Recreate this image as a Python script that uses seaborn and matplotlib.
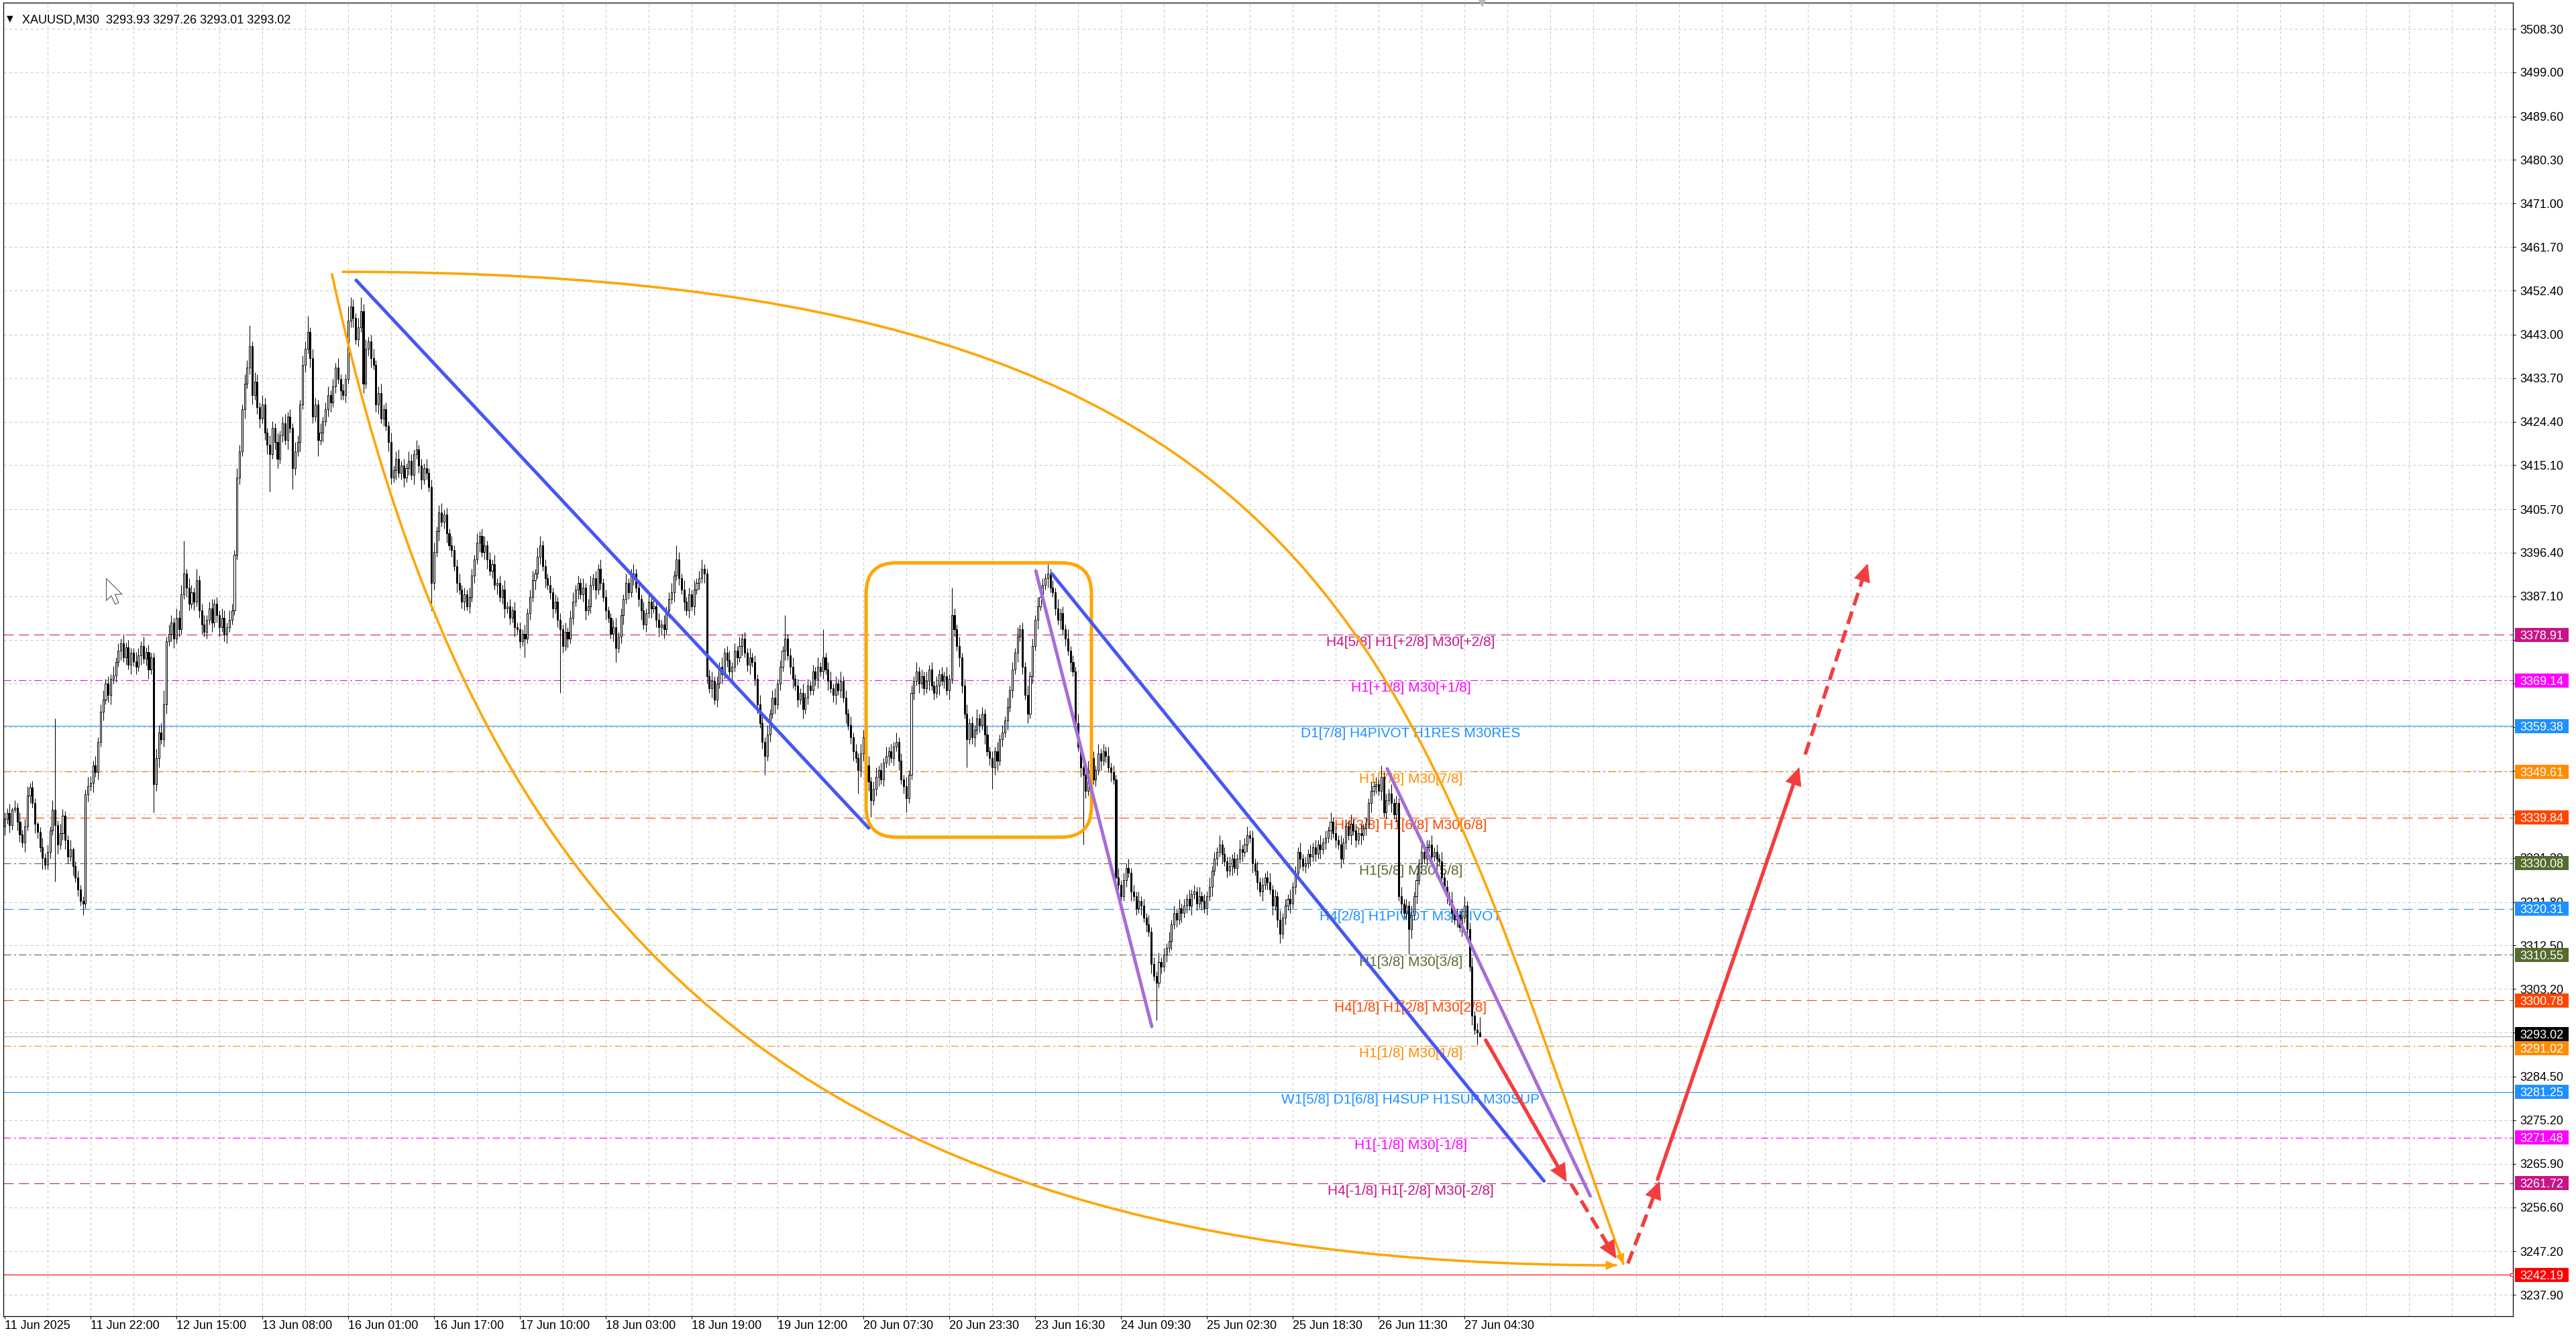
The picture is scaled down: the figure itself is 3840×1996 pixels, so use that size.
import numpy as np
import pandas as pd
import matplotlib
matplotlib.use("Agg")
import matplotlib.pyplot as plt
import seaborn as sns
from matplotlib.patches import FancyBboxPatch, Rectangle, PathPatch, Polygon
from matplotlib.path import Path
from matplotlib.markers import MarkerStyle
import matplotlib.transforms as mtransforms

# ============================ DATA ============================
symbol = "XAUUSD,M30"
first_open = 3338.0

# closes (M30 bars)
close_a = [3339.5, 3340.8, 3338.2, 3341.5, 3342.0, 3339.0, 3336.2, 3334.5, 3338.0, 3344.5,
           3346.2, 3343.0, 3338.5, 3336.8, 3333.5, 3331.2, 3329.8, 3332.5, 3337.0, 3341.5,
           3338.2, 3334.0, 3336.5, 3340.2, 3335.0, 3331.5, 3333.0, 3329.5, 3327.0, 3324.5,
           3322.0, 3321.5]
up_a = [1.5, 1.0, 2.0, 0.5, 1.5, 1.0, 2.0, 1.0, 1.5, 2.0,
        1.0, 1.5, 1.0, 0.5, 1.0, 2.0, 1.0, 1.5, 1.0, 2.0,
        19.5, 1.0, 2.0, 1.5, 1.0, 1.0, 2.0, 0.5, 1.0, 1.5,
        1.0, 1.0]
dn_a = [2.0, 1.0, 1.5, 1.0, 0.5, 2.0, 1.5, 1.0, 2.0, 1.0,
        1.5, 1.0, 2.0, 1.5, 1.0, 2.5, 1.0, 1.0, 1.5, 1.0,
        12.0, 2.0, 1.0, 1.5, 2.0, 1.5, 1.0, 2.0, 1.0, 1.5,
        1.0, 2.5]

close_b = [3344.8, 3346.5, 3347.2, 3351.0, 3349.5, 3356.0, 3362.5, 3365.0, 3368.5, 3366.0,
           3369.5, 3370.2, 3373.0, 3375.5, 3377.0, 3374.0, 3376.2, 3372.5, 3375.0, 3373.2,
           3372.0, 3374.5, 3376.5, 3373.8, 3375.2, 3371.5, 3374.0]
up_b = [1.0, 2.0, 1.5, 1.0, 2.0, 1.0, 1.5, 2.0, 1.0, 1.5,
        1.0, 2.0, 1.0, 1.5, 1.0, 2.0, 1.0, 1.5, 1.0, 1.0,
        2.0, 1.5, 1.0, 2.0, 1.0, 1.5, 1.0]
dn_b = [1.0, 1.5, 1.0, 2.0, 1.0, 1.5, 1.0, 2.0, 1.0, 1.5,
        2.0, 1.0, 1.5, 1.0, 2.0, 1.0, 1.5, 1.0, 2.0, 1.0,
        1.5, 1.0, 2.0, 1.0, 1.5, 2.0, 1.0]

close_c = [3347.0, 3352.5, 3358.0, 3356.5, 3364.0, 3377.5, 3379.0, 3381.5, 3378.0, 3382.5,
           3380.0, 3387.5, 3392.0, 3389.0, 3385.5, 3388.0, 3386.0, 3390.5, 3384.0, 3381.0,
           3379.5, 3382.0, 3384.5, 3381.5, 3385.5, 3383.0, 3380.5, 3382.5, 3379.0, 3380.5,
           3382.0, 3384.0]
up_c = [1.0, 2.0, 1.5, 2.0, 3.0, 1.0, 2.0, 1.5, 1.0, 2.0,
        1.5, 2.0, 7.0, 1.0, 2.0, 1.5, 1.0, 2.5, 1.0, 1.5,
        2.0, 1.0, 1.5, 2.0, 1.0, 1.5, 1.0, 2.0, 1.5, 1.0,
        2.0, 1.5]
dn_c = [6.0, 1.5, 2.0, 1.0, 1.5, 2.0, 1.0, 1.5, 2.0, 1.0,
        1.5, 1.0, 1.0, 2.0, 1.5, 1.0, 2.0, 1.0, 1.5, 2.0,
        1.0, 1.5, 1.0, 2.0, 1.0, 1.5, 2.0, 1.0, 1.5, 2.0,
        1.0, 1.0]

close_d = [3396.0, 3412.5, 3418.0, 3427.0, 3432.5, 3436.0, 3440.5, 3430.0, 3433.0, 3427.5,
           3425.0, 3428.0, 3422.0, 3419.5, 3417.5, 3423.0, 3420.0, 3416.5, 3421.5, 3424.0,
           3420.5, 3425.5, 3423.0, 3414.5, 3418.0, 3420.0, 3428.0, 3436.5, 3440.0, 3443.5,
           3438.0, 3425.5, 3428.0, 3420.5, 3422.0, 3424.5, 3427.0, 3430.0, 3428.5, 3432.0,
           3436.0, 3433.5, 3431.0, 3430.0, 3433.5]
up_d = [1.0, 2.0, 1.5, 1.0, 2.0, 1.5, 4.5, 1.0, 2.0, 1.5,
        1.0, 2.0, 1.5, 1.0, 2.0, 1.5, 1.0, 2.0, 1.0, 1.5,
        2.0, 1.0, 1.5, 1.0, 2.0, 1.5, 1.0, 2.0, 1.5, 3.5,
        1.0, 2.0, 1.5, 1.0, 2.0, 1.0, 1.5, 2.0, 1.0, 1.5,
        1.0, 2.0, 1.0, 1.5, 1.0]
dn_d = [1.0, 1.0, 1.5, 1.0, 2.0, 1.0, 1.5, 2.0, 1.0, 1.5,
        2.0, 1.0, 1.5, 2.0, 8.0, 1.0, 1.5, 2.0, 1.0, 1.5,
        1.0, 2.0, 1.0, 4.5, 1.5, 1.0, 2.0, 1.0, 1.5, 1.0,
        2.0, 1.5, 1.0, 3.5, 1.0, 2.0, 1.0, 1.5, 2.0, 1.0,
        1.5, 1.0, 2.0, 1.0, 1.5]

close_e = [3446.0, 3449.0, 3446.5, 3442.0, 3444.5, 3448.0, 3432.5, 3440.0, 3441.5, 3438.0,
           3436.5, 3428.0, 3430.5, 3425.0, 3427.0, 3423.5, 3420.0, 3412.5, 3414.0, 3416.5,
           3413.5, 3415.0, 3412.5, 3414.5, 3416.0, 3413.0, 3417.5, 3418.5, 3415.0, 3412.0,
           3414.5, 3413.5, 3410.5, 3390.0, 3396.5, 3401.0, 3405.0, 3403.0, 3404.5, 3400.5,
           3398.0, 3397.0, 3393.5, 3390.0, 3388.5, 3386.0, 3387.5, 3385.0, 3387.0]
up_e = [3.0, 2.0, 1.5, 1.0, 2.0, 3.0, 1.5, 2.0, 1.0, 1.5,
        2.0, 1.0, 1.5, 2.0, 1.0, 1.5, 1.0, 2.0, 1.0, 1.5,
        2.0, 1.0, 1.5, 1.0, 2.0, 1.5, 1.0, 2.0, 1.0, 1.5,
        1.0, 2.0, 1.0, 1.5, 2.0, 1.0, 1.5, 2.0, 1.0, 1.5,
        1.0, 2.0, 1.0, 1.5, 2.0, 1.0, 1.5, 1.0, 2.0]
dn_e = [1.0, 1.5, 2.0, 1.0, 1.5, 1.0, 2.0, 1.0, 1.5, 2.0,
        1.0, 1.5, 2.0, 1.0, 1.5, 1.0, 2.0, 1.5, 1.0, 2.0,
        1.0, 1.5, 2.0, 1.0, 1.5, 1.0, 2.0, 1.0, 1.5, 2.0,
        1.0, 1.5, 1.0, 6.0, 1.5, 1.0, 2.0, 1.0, 1.5, 2.0,
        1.0, 1.5, 1.0, 2.0, 1.0, 1.5, 2.0, 1.0, 1.5]

close_f = [3391.5, 3395.0, 3398.5, 3400.0, 3396.5, 3398.0, 3395.0, 3392.5, 3394.0, 3389.5,
           3390.0, 3387.0, 3388.5, 3384.5, 3385.0,
           3382.5, 3384.0, 3380.5, 3380.0, 3377.5, 3379.0, 3378.0, 3383.5, 3387.0, 3390.5,
           3392.0, 3395.5, 3398.0, 3393.5, 3391.0, 3389.5, 3388.0, 3384.5, 3386.0, 3382.0,
           3380.0, 3376.5, 3379.5, 3378.0, 3382.5, 3386.0, 3388.5, 3390.0, 3387.5, 3389.0,
           3384.0, 3385.0, 3389.5, 3391.0, 3388.5, 3393.0, 3390.0, 3387.0, 3384.0, 3382.5,
           3379.0, 3380.5, 3376.0, 3378.5, 3383.0, 3386.5, 3390.0, 3388.0, 3391.5, 3392.0,
           3389.0, 3386.5, 3384.0, 3381.0, 3383.5, 3386.0, 3384.5, 3385.0, 3382.0, 3380.5,
           3381.0, 3380.0, 3384.0, 3386.5, 3388.0, 3391.5, 3395.0, 3391.0, 3388.5, 3386.0,
           3384.0, 3387.5, 3385.0, 3388.5, 3390.0, 3391.0, 3393.0, 3392.0]
up_f = [1.5, 1.0, 2.0, 1.0, 1.5, 2.0, 1.0, 1.5, 1.0, 2.0, 1.0, 1.5, 1.0, 2.0, 1.0,
        1.5, 1.0, 2.0, 1.0, 1.5, 1.0, 2.0, 1.0, 1.5, 2.0, 1.0, 2.0, 2.0, 1.0, 1.5, 1.0, 2.0, 1.0, 1.5, 1.0,
        1.5, 1.0, 2.0, 1.0, 1.5, 2.0, 1.0, 1.5, 1.0, 2.0, 1.0, 1.5, 2.0, 1.0, 1.5, 1.0, 2.0, 1.0, 1.5, 1.0,
        1.0, 1.5, 2.0, 1.0, 1.5, 1.0, 2.0, 1.0, 1.5, 2.0, 1.0, 1.5, 1.0, 2.0, 1.0, 1.5, 1.0, 2.0, 1.0, 1.5,
        1.0, 2.0, 1.0, 1.5, 2.0, 1.0, 3.0, 1.5, 1.0, 2.0, 1.0, 1.5, 1.0, 2.0, 1.0, 1.5, 2.0, 1.0]
dn_f = [1.0, 1.5, 1.0, 2.0, 1.0, 1.5, 2.0, 1.0, 1.5, 1.0, 2.0, 1.0, 1.5, 2.0, 1.0,
        1.5, 1.0, 2.0, 1.0, 1.5, 1.0, 4.0, 1.0, 1.5, 1.0, 2.0, 1.0, 1.5, 1.0, 2.0, 1.0, 1.5, 2.0, 1.0, 1.5,
        13.5, 1.5, 1.0, 2.0, 1.0, 1.5, 1.0, 2.0, 1.0, 1.5, 2.0, 1.0, 1.5, 1.0, 2.0, 1.0, 1.5, 1.0, 2.0, 1.0,
        1.0, 1.5, 3.0, 1.0, 1.5, 2.0, 1.0, 1.5, 1.0, 2.0, 1.0, 1.5, 2.0, 1.0, 1.5, 1.0, 2.0, 1.0, 1.5, 2.0,
        1.5, 2.0, 1.0, 1.5, 1.0, 2.0, 1.0, 1.5, 1.0, 2.0, 1.0, 1.5, 1.0, 2.0, 1.0, 1.5, 1.0, 2.0]

close_g = [3370.0, 3367.5, 3369.0, 3365.0, 3368.5, 3372.0, 3370.5, 3375.0, 3373.5, 3371.0,
           3372.0, 3375.5, 3374.0, 3376.5, 3378.0, 3375.0, 3372.5, 3374.0, 3373.0, 3369.5,
           3364.0, 3360.0,
           3356.0, 3353.0, 3357.5, 3362.0, 3365.5, 3364.0, 3368.5, 3372.0, 3375.5, 3378.0,
           3374.5, 3372.0, 3369.5, 3368.0, 3365.0, 3366.5, 3363.0, 3365.5, 3368.0, 3367.0,
           3371.0, 3369.5, 3372.0, 3371.0, 3374.0, 3371.5, 3369.0, 3367.5, 3366.0, 3368.5,
           3367.0, 3369.0, 3365.5, 3362.0, 3359.5, 3357.0, 3354.0, 3352.5, 3350.0, 3353.5,
           3357.0, 3351.0, 3347.5, 3343.5, 3346.0, 3348.5, 3350.0, 3348.0, 3351.5, 3353.0,
           3354.0, 3352.5, 3355.0, 3356.0, 3352.0, 3348.0, 3346.5, 3344.0, 3349.0]
up_g = [1.0, 1.5, 2.0, 1.0, 1.5, 1.0, 2.0, 1.0, 1.5, 2.0, 1.0, 1.5, 1.0, 2.0, 1.0, 1.5, 1.0, 2.0, 1.0, 1.5, 1.0, 2.0,
        1.5, 1.0, 2.0, 1.0, 1.5, 2.0, 1.0, 1.5, 1.0, 5.0, 1.0, 1.5, 2.0, 1.0, 1.5, 1.0, 2.0, 1.0, 1.5, 1.0,
        1.5, 1.0, 2.0, 1.0, 6.0, 1.0, 1.5, 2.0, 1.0, 1.5, 1.0, 2.0, 1.0, 1.5, 1.0, 2.0, 1.0, 1.5, 1.0, 2.0,
        1.5, 1.0, 2.0, 1.0, 1.5, 2.0, 1.0, 1.5, 1.0, 2.0, 1.0, 1.5, 1.0, 2.0, 1.0, 1.5, 1.0, 2.0, 1.0]
dn_g = [1.5, 1.0, 2.0, 1.0, 1.5, 1.0, 2.0, 1.0, 1.5, 1.0, 2.0, 1.0, 1.5, 1.0, 2.0, 1.0, 1.5, 2.0, 1.0, 1.5, 2.0, 1.0,
        1.5, 4.0, 1.0, 1.5, 1.0, 2.0, 1.0, 1.5, 1.0, 2.0, 1.0, 1.5, 2.0, 1.0, 1.5, 1.0, 2.0, 1.0, 1.5, 1.0,
        1.0, 1.5, 2.0, 1.0, 1.5, 1.0, 2.0, 1.0, 1.5, 2.0, 1.0, 1.5, 1.0, 2.0, 1.0, 1.5, 2.0, 1.0, 5.0, 1.5,
        1.5, 1.0, 2.0, 3.5, 1.0, 1.5, 2.0, 1.0, 1.5, 1.0, 2.0, 1.0, 1.5, 1.0, 2.0, 1.0, 1.5, 3.0, 1.0]

close_h = [3366.5, 3369.0, 3371.0, 3368.5, 3370.0, 3367.5, 3369.0, 3371.5, 3368.0, 3366.5,
           3368.0, 3370.5, 3369.0, 3370.0, 3367.0, 3369.5, 3383.0, 3380.0, 3376.5, 3374.0,
           3368.0, 3362.0, 3356.5, 3360.0, 3357.0, 3358.5, 3361.0, 3359.5, 3362.0, 3357.5,
           3354.0, 3352.5, 3350.5, 3354.0, 3352.0, 3356.5, 3358.0, 3360.5, 3363.5, 3367.0,
           3371.5, 3375.0, 3378.5, 3380.0, 3372.0, 3366.0, 3362.0, 3370.0, 3376.5, 3382.0,
           3385.0, 3387.0, 3389.5, 3391.0, 3392.0, 3389.0]
up_h = [1.5, 1.0, 2.0, 1.0, 1.5, 1.0, 2.0, 1.0, 1.5, 1.0, 2.0, 1.0, 1.5, 1.0, 2.0, 1.0, 6.0, 1.5, 1.0, 2.0,
        1.0, 1.5, 2.0, 1.0, 1.5, 1.0, 2.0, 1.0, 1.5, 1.0, 2.0, 1.0, 1.5, 1.0, 2.0, 1.0, 1.5, 1.0, 2.0, 1.0,
        1.5, 1.0, 2.0, 1.0, 1.5, 1.0, 2.0, 1.0, 1.5, 1.0, 2.0, 1.0, 1.5, 1.0, 2.0, 1.0]
dn_h = [1.0, 1.5, 1.0, 2.0, 1.0, 1.5, 1.0, 2.0, 1.0, 1.5, 1.0, 2.0, 1.0, 1.5, 1.0, 2.0, 1.0, 1.5, 1.0, 2.0,
        1.5, 1.0, 6.0, 1.0, 1.5, 2.0, 1.0, 1.5, 1.0, 2.0, 1.0, 1.5, 4.5, 1.5, 2.0, 1.0, 1.5, 1.0, 2.0, 1.0,
        1.5, 1.0, 2.0, 1.0, 1.5, 1.0, 2.0, 1.0, 1.5, 1.0, 2.0, 1.0, 1.5, 1.0, 2.0, 1.0]

close_i = [3388.0, 3384.5, 3382.0, 3383.5, 3380.0, 3378.0, 3375.5, 3373.0, 3371.0, 3360.0,
           3355.0, 3350.5, 3349.0, 3345.5, 3350.0, 3352.5, 3348.0, 3350.0, 3353.5, 3352.0,
           3354.0, 3353.0, 3350.5, 3349.5, 3348.0, 3327.0, 3325.5, 3323.0, 3326.5, 3329.0,
           3328.0, 3324.0, 3323.0, 3320.5, 3322.0, 3321.0, 3318.5, 3317.0, 3315.5, 3308.5,
           3306.0, 3304.5, 3309.0, 3308.0]
up_i = [1.5, 1.0, 2.0, 1.0, 1.5, 1.0, 2.0, 1.0, 1.5, 1.0, 2.0, 1.0, 1.5, 1.0, 2.0, 1.0, 1.5, 1.0, 2.0, 1.0,
        1.5, 1.0, 2.0, 1.0, 1.5, 1.0, 2.0, 1.0, 1.5, 1.0, 2.0, 1.0, 1.5, 1.0, 2.0, 1.0, 1.5, 1.0, 2.0, 1.0,
        1.5, 1.0, 2.0, 1.0]
dn_i = [1.0, 1.5, 1.0, 2.0, 1.0, 1.5, 1.0, 2.0, 1.0, 1.5, 1.0, 2.0, 15.0, 1.5, 1.0, 2.0, 1.0, 1.5, 1.0, 2.0,
        1.0, 1.5, 1.0, 2.0, 1.0, 1.5, 1.0, 2.0, 1.0, 1.5, 1.0, 2.0, 1.0, 1.5, 1.0, 2.0, 1.0, 1.5, 1.0, 2.0,
        1.0, 8.0, 1.0, 1.5]

close_j = [3310.5, 3312.0, 3313.5, 3317.0, 3319.5, 3318.0, 3320.5, 3319.5, 3321.0, 3322.5,
           3321.0, 3323.5, 3324.0, 3321.5, 3323.0, 3322.0, 3320.5, 3323.0, 3325.0, 3328.5,
           3331.0, 3332.5, 3334.0, 3332.0, 3330.5, 3328.5, 3329.5, 3331.0, 3329.0, 3331.0,
           3333.0, 3332.5, 3334.0, 3336.0, 3335.5, 3330.0, 3328.5, 3326.0, 3324.0, 3325.5,
           3327.0, 3326.0, 3324.5, 3321.0, 3323.0, 3318.0, 3315.0, 3318.5, 3321.0, 3322.5,
           3321.5, 3325.0, 3328.0, 3332.5, 3331.0, 3329.5, 3330.0, 3332.0, 3331.5, 3333.5,
           3332.0, 3334.0, 3333.0, 3334.5, 3335.5, 3337.0, 3339.0, 3336.5, 3335.0, 3334.0,
           3331.0, 3334.5, 3338.0, 3336.0, 3338.5, 3337.0, 3335.0, 3336.5, 3336.0, 3337.5,
           3338.5, 3343.0, 3345.5, 3346.5, 3347.0, 3345.5, 3348.5, 3341.0, 3343.5, 3345.0,
           3343.0, 3340.5, 3343.0, 3323.0, 3321.5, 3319.5, 3321.0, 3316.0, 3319.0, 3323.0,
           3326.5, 3330.0, 3332.5, 3331.0, 3333.5, 3334.0, 3331.5, 3332.5, 3331.0, 3330.5,
           3327.0, 3325.0, 3323.0, 3322.0, 3319.5, 3318.0, 3319.0, 3316.5, 3318.5, 3321.0,
           3316.0, 3308.0, 3297.5, 3294.5, 3293.93, 3293.02]
up_j = [1.5, 1.0, 2.0, 1.0, 1.5, 1.0, 2.0, 1.0, 1.5, 1.0, 2.0, 1.0, 1.5, 1.0, 2.0, 1.0, 1.5, 1.0, 2.0, 1.0,
        1.5, 1.0, 2.0, 1.0, 1.5, 1.0, 2.0, 1.0, 1.5, 1.0, 2.0, 1.0, 1.5, 2.0, 1.0, 1.5, 1.0, 2.0, 1.0, 1.5,
        1.0, 1.5, 2.0, 1.0, 1.5, 1.0, 2.0, 1.0, 1.5, 1.0, 2.0, 1.0, 1.5, 1.0, 2.0, 1.0, 1.5, 1.0, 2.0, 1.0,
        1.5, 1.0, 2.0, 1.0, 1.5, 1.0, 2.0, 1.0, 1.5, 1.0, 2.0, 1.0, 1.5, 1.0, 2.0, 1.0, 1.5, 1.0, 2.0, 1.0,
        1.5, 1.0, 2.0, 1.0, 1.5, 1.0, 2.5, 1.0, 1.5, 1.0, 2.0, 1.0, 1.5, 1.0, 2.0, 1.0, 1.5, 1.0, 2.0, 1.0,
        1.5, 1.0, 2.0, 1.0, 1.5, 1.0, 2.0, 1.0, 1.5, 1.0, 2.0, 1.0, 1.5, 1.0, 2.0, 1.0, 1.5, 1.0, 2.0, 2.0,
        1.0, 1.5, 2.0, 1.0, 1.5, 3.33]
dn_j = [1.0, 1.5, 1.0, 2.0, 1.0, 1.5, 1.0, 2.0, 1.0, 1.5, 1.0, 2.0, 1.0, 1.5, 1.0, 2.0, 1.0, 1.5, 1.0, 2.0,
        1.0, 1.5, 1.0, 2.0, 1.0, 1.5, 1.0, 2.0, 1.0, 1.5, 1.0, 2.0, 1.0, 1.5, 1.0, 2.0, 1.0, 1.5, 1.0, 2.0,
        1.0, 1.5, 1.0, 2.0, 1.0, 1.5, 2.0, 1.0, 1.5, 1.0, 2.0, 1.0, 1.5, 1.0, 2.0, 1.0, 1.5, 1.0, 2.0, 1.0,
        1.5, 1.0, 2.0, 1.0, 1.5, 1.0, 2.0, 1.0, 1.5, 1.0, 2.0, 1.0, 1.5, 1.0, 2.0, 1.0, 1.5, 1.0, 2.0, 1.0,
        1.5, 1.0, 2.0, 1.0, 1.5, 1.0, 2.0, 1.0, 1.5, 1.0, 2.0, 1.0, 1.5, 1.0, 2.0, 1.0, 1.5, 5.3, 2.0, 1.0,
        1.5, 1.0, 2.0, 1.0, 1.5, 1.0, 2.0, 1.0, 1.5, 1.0, 2.0, 1.0, 1.5, 1.0, 2.0, 1.0, 1.5, 1.0, 2.0, 1.0,
        1.5, 1.0, 2.0, 1.0, 2.5, 0.01]

# x axis (bar index) tick labels
date_tick_bar = [0, 34, 68, 102, 136, 170, 204, 238, 272, 306, 340, 374, 408, 442, 476, 510, 544, 578]
date_labels = ["11 Jun 2025", "11 Jun 22:00", "12 Jun 15:00", "13 Jun 08:00", "16 Jun 01:00",
               "16 Jun 17:00", "17 Jun 10:00", "18 Jun 03:00", "18 Jun 19:00", "19 Jun 12:00",
               "20 Jun 07:30", "20 Jun 23:30", "23 Jun 16:30", "24 Jun 09:30", "25 Jun 02:30",
               "25 Jun 18:30", "26 Jun 11:30", "27 Jun 04:30"]
grid_bar_step = 17

price_ticks = [3237.90, 3247.20, 3256.60, 3265.90, 3275.20, 3284.50, 3293.90, 3303.20, 3312.50,
               3321.80, 3331.20, 3340.50, 3349.80, 3359.10, 3368.40, 3377.80, 3387.10, 3396.40,
               3405.70, 3415.10, 3424.40, 3433.70, 3443.00, 3452.40, 3461.70, 3471.00, 3480.30,
               3489.60, 3499.00, 3508.30]
# price-scale labels that the chart hides completely behind the level boxes
hidden_price_ticks = [3359.10, 3368.40, 3377.80]
price_range = [3233.33, 3513.89]

# Murrey-math style levels
level_price = [3378.91, 3369.14, 3359.38, 3349.61, 3339.84, 3330.08, 3320.31,
               3310.55, 3300.78, 3291.02, 3281.25, 3271.48, 3261.72, 3242.19]
level_color = ["#C71585", "#FF00FF", "#1E90FF", "#FF8C00", "#FF4500", "#556B2F", "#1E90FF",
               "#556B2F", "#FF4500", "#FF8C00", "#1E90FF", "#FF00FF", "#C71585", "#FF0000"]
level_style = ["dash", "dashdot", "solid", "dashdot", "dash", "dashdot", "dash",
               "dashdot", "dash", "dashdot", "solid", "dashdot", "dash", "solid"]
level_text = ["H4[5/8] H1[+2/8] M30[+2/8]", "H1[+1/8] M30[+1/8]", "D1[7/8] H4PIVOT H1RES M30RES",
              "H1[7/8] M30[7/8]", "H4[3/8] H1[6/8] M30[6/8]", "H1[5/8] M30[5/8]",
              "H4[2/8] H1PIVOT M30PIVOT", "H1[3/8] M30[3/8]", "H4[1/8] H1[2/8] M30[2/8]",
              "H1[1/8] M30[1/8]", "W1[5/8] D1[6/8] H4SUP H1SUP M30SUP", "H1[-1/8] M30[-1/8]",
              "H4[-1/8] H1[-2/8] M30[-2/8]", ""]
level_label_bar = 556.7

# trend lines (blue, purple)
line_bar0 = [139.2, 414.6, 408.3, 547.4]
line_price0 = [3454.6, 3391.95, 3392.5, 3350.25]
line_bar1 = [342.1, 609.5, 454.2, 627.8]
line_price1 = [3337.6, 3262.2, 3295.2, 3259.0]
line_color = ["#4657F2", "#4657F2", "#A66ED6", "#A66ED6"]

# projected path arrows (red)
arrow_bar0 = [586.4, 620.2, 642.7, 654.5, 712.9]
arrow_price0 = [3292.3, 3261.6, 3244.6, 3262.6, 3353.3]
arrow_bar1 = [618.4, 638.0, 655.2, 710.5, 737.6]
arrow_price1 = [3262.1, 3245.7, 3262.1, 3350.5, 3394.0]
arrow_dashed = [False, True, True, False, True]

# orange arcs (cubic Bezier control points) and consolidation box
arc_right_bar = [133.9, 532.3, 554.9, 640.9]
arc_right_price = [3456.4, 3456.4, 3373.4, 3244.5]
arc_left_bar = [129.6, 182.2, 292.7, 638.0]
arc_left_price = [3455.9, 3326.9, 3244.2, 3244.2]
box_bar = [341.1, 430.3]
box_price = [3335.64, 3394.25]

cursor_bar, cursor_price = 40.1, 3390.95

# ============================ STYLE / LAYOUT ============================
sns.set_style("white")
plt.rcParams["font.family"] = ["Liberation Sans", "DejaVu Sans"]

W, H = 3840, 1996
fig = plt.figure(figsize=(W / 100, H / 100), dpi=100, facecolor="white")
L, R, T, B = 5, 3746, 4, 1962
ax = fig.add_axes([L / W, 1 - B / H, (R - L) / W, (B - T) / H])
BAR_PX = 3.765
ax.set_xlim(-0.5, -0.5 + (R - L) / BAR_PX)
ax.set_ylim(price_range[0], price_range[1])
ax.set_facecolor("white")

px_per_bar = (R - L) / (ax.get_xlim()[1] - ax.get_xlim()[0])
px_per_price = (B - T) / (price_range[1] - price_range[0])

# ---------- candles ----------
close = np.array(close_a + close_b + close_c + close_d + close_e + close_f + close_g + close_h + close_i + close_j)
up = np.array(up_a + up_b + up_c + up_d + up_e + up_f + up_g + up_h + up_i + up_j)
dn = np.array(dn_a + dn_b + dn_c + dn_d + dn_e + dn_f + dn_g + dn_h + dn_i + dn_j)
m = min(len(close), len(up), len(dn))
close, up, dn = close[:m], up[:m], dn[:m]
opn = np.concatenate([[first_open], close[:-1]])
high = np.maximum(opn, close) + up
low = np.minimum(opn, close) - dn
xb = np.arange(m)

# ---------- grid ----------
grid_c = "#C6C6C6"
for k in range(1, int(ax.get_xlim()[1] // grid_bar_step) + 1):
    ax.axvline(k * grid_bar_step, color=grid_c, lw=0.72, dashes=(4, 4), zorder=0.5)
for v in price_ticks:
    ax.axhline(v, color=grid_c, lw=0.72, dashes=(4, 4), zorder=0.5)

# ---------- level lines ----------
for p, c, s in zip(level_price, level_color, level_style):
    if s == "solid":
        ax.axhline(p, color=c, lw=0.8, zorder=1)
    elif s == "dash":
        ax.axhline(p, color=c, lw=0.8, dashes=(13.5, 7), zorder=1)
    else:
        ax.axhline(p, color=c, lw=0.8, dashes=(10, 4, 2.5, 4), zorder=1)
# current price line
ax.axhline(close[-1], color="#B4B4B4", lw=0.8, zorder=1)

off = mtransforms.offset_copy(ax.transData, fig=fig, x=0, y=-2, units="dots")
for p, c, t in zip(level_price, level_color, level_text):
    if t:
        ax.text(level_label_bar, p, t, color=c, fontsize=15, family="Liberation Sans",
                ha="center", va="top", transform=off, zorder=2)

# ---------- candles draw ----------
ax.vlines(xb, low, high, color="black", lw=0.75, zorder=3)
bull = close >= opn
body_lo = np.minimum(opn, close)
body_h = np.maximum(np.abs(close - opn), 0.12)
ax.bar(xb[bull], body_h[bull], bottom=body_lo[bull], width=0.55, facecolor="white",
       edgecolor="black", linewidth=0.72, zorder=3.1)
ax.bar(xb[~bull], body_h[~bull], bottom=body_lo[~bull], width=0.55, facecolor="black",
       edgecolor="black", linewidth=0.72, zorder=3.1)

# ---------- helpers ----------
def add_head(tail, tip, color, length_px, half_px, z):
    tr = ax.transData
    p0 = tr.transform(tail)
    p1 = tr.transform(tip)
    d = p1 - p0
    d = d / np.hypot(d[0], d[1])
    nrm = np.array([-d[1], d[0]])
    base = p1 - d * length_px
    tri = tr.inverted().transform(np.array([p1, base + nrm * half_px, base - nrm * half_px]))
    ax.add_patch(Polygon(tri, closed=True, facecolor=color, edgecolor=color, lw=0.5, zorder=z))
    return tr.inverted().transform(base + d * 1.5)

ORANGE = "#FFA500"
# ---------- orange arcs ----------
for bx, by in [(arc_right_bar, arc_right_price), (arc_left_bar, arc_left_price)]:
    path = Path(list(zip(bx, by)), [Path.MOVETO, Path.CURVE4, Path.CURVE4, Path.CURVE4])
    ax.add_patch(PathPatch(path, fill=False, edgecolor=ORANGE, lw=2.6, zorder=4, capstyle="round"))
    add_head((bx[2], by[2]), (bx[3], by[3]), ORANGE, 15, 6.5, 4)

# ---------- rounded consolidation box ----------
aspect = px_per_bar / px_per_price
ax.add_patch(FancyBboxPatch((box_bar[0], box_price[0]), box_bar[1] - box_bar[0],
                            box_price[1] - box_price[0],
                            boxstyle="round,pad=0,rounding_size=12", mutation_aspect=aspect,
                            fill=False, edgecolor=ORANGE, lw=3.6, zorder=4))

# ---------- trend lines (seaborn) ----------
for b0, p0, b1, p1, c in zip(line_bar0, line_price0, line_bar1, line_price1, line_color):
    df = pd.DataFrame({"bar": [b0, b1], "price": [p0, p1]})
    sns.lineplot(data=df, x="bar", y="price", ax=ax, color=c, linewidth=3.6,
                 solid_capstyle="round", zorder=5, legend=False, sort=False, estimator=None)

# ---------- red arrows ----------
RED = "#F23E3E"
for b0, p0, b1, p1, dsh in zip(arrow_bar0, arrow_price0, arrow_bar1, arrow_price1, arrow_dashed):
    end = add_head((b0, p0), (b1, p1), RED, 26, 12, 6)
    if dsh:
        ax.plot([b0, end[0]], [p0, end[1]], color=RED, lw=3.9, dashes=(3.6, 1.8),
                dash_capstyle="butt", zorder=6)
    else:
        ax.plot([b0, end[0]], [p0, end[1]], color=RED, lw=3.9, solid_capstyle="round", zorder=6)

# ---------- mouse cursor & shift marker ----------
cur = Path([(0, 0), (0, -16), (3.6, -12.4), (6.4, -18.6), (9.0, -17.5), (6.3, -11.4), (11.4, -11.4), (0, 0)],
           [Path.MOVETO] + [Path.LINETO] * 6 + [Path.CLOSEPOLY])
ax.plot([cursor_bar], [cursor_price], marker=MarkerStyle(cur), ms=55, mfc="white", mec="#555555",
        mew=0.8, ls="none", zorder=7)
ax.plot([m], [price_range[1]], marker="v", ms=7, color="#B8B8B8", ls="none", clip_on=False, zorder=12)
ax.plot([ax.get_xlim()[1] - 0.6], [level_price[-1]], marker="s", ms=3, mfc="white", mec="#FF0000",
        mew=0.8, ls="none", clip_on=False, zorder=12)

# ---------- axes / ticks ----------
for sp in ax.spines.values():
    sp.set_color("black")
    sp.set_linewidth(0.9)
    sp.set_visible(True)

ax.yaxis.tick_right()
ax.set_yticks(price_ticks)
ax.set_yticklabels(["" if any(abs(v - h) < 1e-6 for h in hidden_price_ticks) else f"{v:.2f}"
                    for v in price_ticks])
ax.tick_params(axis="y", which="major", right=True, left=False, labelright=True, labelleft=False,
               direction="out", length=2.9, width=0.72, pad=4.3, labelsize=13, colors="black")
ax.set_xticks(date_tick_bar)
ax.set_xticklabels(date_labels, ha="left")
ax.tick_params(axis="x", which="major", bottom=True, top=False, direction="out", length=2.9,
               width=0.72, pad=1.5, labelsize=13, colors="black")
ax.set_xlabel("")
ax.set_ylabel("")

# ---------- right-side price boxes ----------
blend = mtransforms.blended_transform_factory(ax.transAxes, ax.transData)
box_h = 21 / px_per_price
bx0 = (3749 - L) / (R - L)
bwid = 80 / (R - L)
tx = (3756 - L) / (R - L)
entries = [(p, c) for p, c in zip(level_price, level_color)] + [(close[-1], "#000000")]
entries.sort(key=lambda e: -e[0])
centers = [e[0] for e in entries]
for k in range(1, len(centers)):
    gap = centers[k - 1] - centers[k]
    if gap < box_h:
        sh = (box_h - gap) / 2
        centers[k - 1] += sh
        centers[k] -= sh
for (p, c), yc in zip(entries, centers):
    ax.add_patch(Rectangle((bx0, yc - box_h / 2), bwid, box_h, transform=blend, facecolor=c,
                           edgecolor="none", clip_on=False, zorder=10 + (1 if c == "#000000" else 0)))
    ax.text(tx, yc, f"{p:.2f}", transform=blend, color="white", fontsize=13, ha="left",
            va="center_baseline", clip_on=False, zorder=11.5)

# ---------- header ----------
header = f"{symbol}  {opn[-1]:.2f} {high[-1]:.2f} {low[-1]:.2f} {close[-1]:.2f}"
fig.text(10 / W, 1 - 28 / H, "\u25BC", fontsize=9, family="DejaVu Sans", va="center", ha="left", color="black")
fig.text(33 / W, 1 - 30 / H, header, fontsize=13, va="center", ha="left", color="black")

fig.savefig("out.png", dpi=100, facecolor="white")
